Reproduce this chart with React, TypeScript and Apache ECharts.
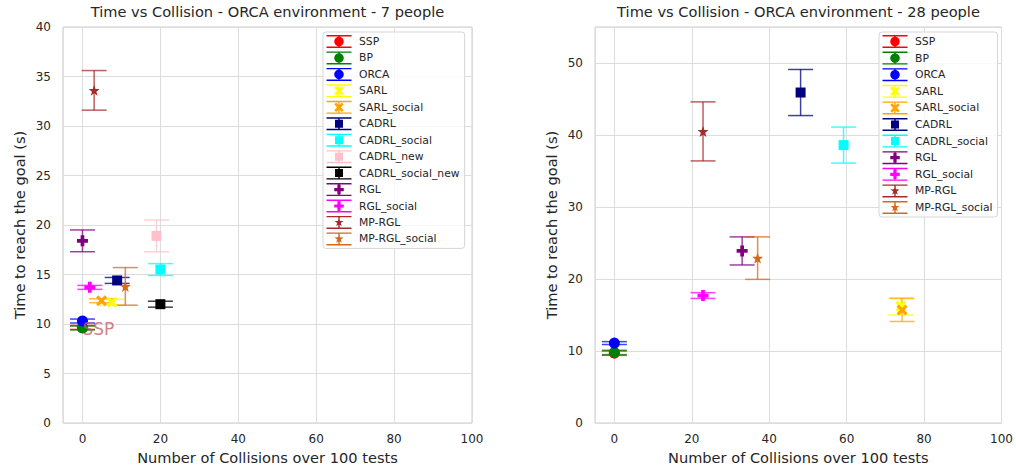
import React, { useEffect, useRef } from "react";
import * as echarts from "echarts";

// ---- data (7 people) ----
const methods7 = ["SSP", "BP", "ORCA", "SARL", "SARL_social", "CADRL", "CADRL_social", "CADRL_new", "CADRL_social_new", "RGL", "RGL_social", "MP-RGL", "MP-RGL_social"];
const collisions7 = [0, 0, 0, 7.6, 4.9, 8.9, 20, 19, 20, 0, 1.9, 3, 11];
const time7 = [9.65, 9.6, 10.3, 12.2, 12.35, 14.4, 15.5, 18.9, 12.0, 18.4, 13.7, 33.6, 13.8];
const err7 = [0.2, 0.2, 0.2, 0.3, 0.2, 0.3, 0.6, 1.6, 0.3, 1.1, 0.2, 2.0, 1.9];

// ---- data (28 people) ----
const methods28 = ["SSP", "BP", "ORCA", "SARL", "SARL_social", "CADRL", "CADRL_social", "RGL", "RGL_social", "MP-RGL", "MP-RGL_social"];
const collisions28 = [0, 0, 0, 74, 74.3, 48.1, 59.2, 33, 22.9, 22.9, 37];
const time28 = [9.7, 9.8, 11.1, 16.2, 15.7, 45.9, 38.6, 23.9, 17.7, 40.5, 22.9];
const err28 = [0.3, 0.3, 0.2, 1.2, 1.6, 3.2, 2.5, 1.95, 0.4, 4.1, 2.95];

const titles = ["Time vs Collision - ORCA environment - 7 people", "Time vs Collision - ORCA environment - 28 people"];
const xName = "Number of Collisions over 100 tests";
const yName = "Time to reach the goal (s)";
const annotationText = "SSP";

const COLORS: Record<string, string> = {
  SSP: "#ff0000",
  BP: "#008000",
  ORCA: "#0000ff",
  SARL: "#ffff00",
  SARL_social: "#ffa500",
  CADRL: "#000080",
  CADRL_social: "#00ffff",
  CADRL_new: "#ffc0cb",
  CADRL_social_new: "#000000",
  RGL: "#800080",
  RGL_social: "#ff00ff",
  "MP-RGL": "#a52a2a",
  "MP-RGL_social": "#d2691e",
};

const MARKER: Record<string, string> = {
  SSP: "circle", BP: "circle", ORCA: "circle",
  SARL: "x", SARL_social: "x",
  CADRL: "square", CADRL_social: "square", CADRL_new: "square", CADRL_social_new: "square",
  RGL: "plus", RGL_social: "plus",
  "MP-RGL": "star", "MP-RGL_social": "star",
};

const circlePts: number[][] = [];
for (let i = 0; i < 28; i++) {
  const a = (i / 28) * Math.PI * 2;
  circlePts.push([5 + 5 * Math.cos(a), 5 + 5 * Math.sin(a)]);
}
const SHAPES: Record<string, number[][]> = {
  circle: circlePts,
  x: [[2, 0], [5, 3], [8, 0], [10, 2], [7, 5], [10, 8], [8, 10], [5, 7], [2, 10], [0, 8], [3, 5], [0, 2]],
  square: [[0, 0], [10, 0], [10, 10], [0, 10]],
  plus: [[3.3, 0], [6.7, 0], [6.7, 3.3], [10, 3.3], [10, 6.7], [6.7, 6.7], [6.7, 10], [3.3, 10], [3.3, 6.7], [0, 6.7], [0, 3.3], [3.3, 3.3]],
  star: [[5, 0], [6.18, 3.38], [9.76, 3.45], [6.9, 5.62], [7.94, 9.05], [5, 7], [2.06, 9.05], [3.1, 5.62], [0.24, 3.45], [3.82, 3.38]],
};
const SIZES: Record<string, number> = { circle: 11, x: 11, square: 10, plus: 11, star: 11 };

function polyPath(pts: number[][], s: number, ox: number, oy: number) {
  return pts.map((p, i) => (i ? "L" : "M") + (ox + p[0] * s).toFixed(2) + "," + (oy + p[1] * s).toFixed(2)).join(" ") + " Z";
}
const CAP = "M0,0 H25 V1.4 H0 Z M0,11.6 H25 V13 H0 Z M11.8,0 H13.2 V13 H11.8 Z";
function symbolOf(m: string) {
  return "path://" + polyPath(SHAPES[MARKER[m]], 1, 0, 0);
}
function iconOf(m: string) {
  const k = MARKER[m];
  const s = k === "square" ? 0.8 : 0.95;
  const off = (10 * s) / 2;
  return "path://" + CAP + " " + polyPath(SHAPES[k], s, 12.5 - off, 6.5 - off);
}

function errorbarRender(color: string) {
  return (params: any, api: any) => {
    const x = api.value(0);
    const y = api.value(1);
    const e = api.value(2);
    const top = api.coord([x, y + e]);
    const bot = api.coord([x, y - e]);
    const hw = 12.5;
    const style = { stroke: color, lineWidth: 1.5, opacity: 0.75 };
    return {
      type: "group",
      children: [
        { type: "line", shape: { x1: top[0], y1: top[1], x2: bot[0], y2: bot[1] }, style },
        { type: "line", shape: { x1: top[0] - hw, y1: top[1], x2: top[0] + hw, y2: top[1] }, style },
        { type: "line", shape: { x1: bot[0] - hw, y1: bot[1], x2: bot[0] + hw, y2: bot[1] }, style },
      ],
    };
  };
}

function panelSeries(methods: string[], xs: number[], ys: number[], es: number[], idx: number) {
  const out: any[] = [];
  methods.forEach((m, i) => {
    const c = COLORS[m];
    out.push({
      type: "custom",
      name: m,
      xAxisIndex: idx,
      yAxisIndex: idx,
      data: [[xs[i], ys[i], es[i]]],
      encode: { x: 0, y: 1 },
      itemStyle: { color: c },
      renderItem: errorbarRender(c),
      silent: true,
    });
    out.push({
      type: "scatter",
      name: m,
      xAxisIndex: idx,
      yAxisIndex: idx,
      data: [[xs[i], ys[i]]],
      symbol: symbolOf(m),
      symbolSize: SIZES[MARKER[m]],
      itemStyle: { color: c, opacity: 1 },
      silent: true,
    });
  });
  return out;
}

const FONT = "DejaVu Sans";
const TXT = "#262626";
const BIG = 14.6;

function makeAxes(idx: number, yMax: number, yInterval: number) {
  const x = {
    type: "value",
    gridIndex: idx,
    min: -5,
    max: 100,
    name: xName,
    nameLocation: "middle",
    nameGap: 27,
    nameTextStyle: { fontSize: BIG, color: TXT, fontFamily: FONT },
    axisLine: { show: false },
    axisTick: { show: false },
    axisLabel: { fontSize: 12, color: TXT, fontFamily: FONT, margin: 10, showMinLabel: false },
    splitLine: { show: true, lineStyle: { color: "#dddddd", width: 1 } },
  };
  const y = {
    type: "value",
    gridIndex: idx,
    min: 0,
    max: yMax,
    interval: yInterval,
    name: yName,
    nameLocation: "middle",
    nameGap: 36,
    nameTextStyle: { fontSize: BIG, color: TXT, fontFamily: FONT },
    axisLine: { show: false },
    axisTick: { show: false },
    axisLabel: {
      fontSize: 12, color: TXT, fontFamily: FONT, margin: 12,
      formatter: (v: number) => (v % yInterval === 0 ? String(v) : ""),
    },
    splitLine: { show: true, lineStyle: { color: "#dddddd", width: 1 } },
  };
  return { x, y };
}

function makeLegend(methods: string[], left: number, gap: number) {
  return {
    orient: "vertical",
    left,
    top: 32,
    itemWidth: 25,
    itemHeight: 13,
    itemGap: gap,
    padding: [3, 5, 3, 3.5],
    backgroundColor: "rgba(255,255,255,0.8)",
    borderColor: "#d6d6d6",
    borderWidth: 1,
    borderRadius: 3,
    selectedMode: false,
    textStyle: { fontSize: 10.8, color: TXT, fontFamily: FONT, padding: [0, 0, 0, 2.5] },
    data: methods.map((m) => ({ name: m, icon: iconOf(m), itemStyle: { color: COLORS[m] } })),
  };
}

export default function App() {
  const ref = useRef<HTMLDivElement>(null);
  useEffect(() => {
    if (!ref.current) return;
    const chart = echarts.init(ref.current, null, { renderer: "svg" });
    const a0 = makeAxes(0, 40, 5);
    const a1 = makeAxes(1, 55, 10);
    const series = [
      ...panelSeries(methods7, collisions7, time7, err7, 0),
      ...panelSeries(methods28, collisions28, time28, err28, 1),
      {
        type: "scatter",
        name: "annotation",
        xAxisIndex: 0,
        yAxisIndex: 0,
        data: [[collisions7[0], time7[0]]],
        symbol: "circle",
        symbolSize: 1,
        itemStyle: { color: "rgba(0,0,0,0)" },
        silent: true,
        z: 5,
        label: {
          show: true,
          formatter: annotationText,
          position: [0.5, 2],
          align: "left",
          verticalAlign: "middle",
          fontSize: 17,
          color: "#c46060",
          fontFamily: FONT,
        },
      },
    ];
    chart.setOption({
      animation: false,
      backgroundColor: "#ffffff",
      title: [
        { text: titles[0], left: 267.5, top: 4, textAlign: "center", padding: 0, textStyle: { fontSize: BIG, fontWeight: "normal", color: TXT, fontFamily: FONT } },
        { text: titles[1], left: 798.5, top: 4, textAlign: "center", padding: 0, textStyle: { fontSize: BIG, fontWeight: "normal", color: TXT, fontFamily: FONT } },
      ],
      grid: [
        { left: 63, top: 27, width: 409, height: 396, show: true, borderColor: "#cccccc", borderWidth: 1, containLabel: false },
        { left: 595, top: 27, width: 407, height: 396, show: true, borderColor: "#cccccc", borderWidth: 1, containLabel: false },
      ],
      xAxis: [a0.x, a1.x],
      yAxis: [a0.y, a1.y],
      legend: [makeLegend(methods7, 323, 3.45), makeLegend(methods28, 879, 3.6)],
      series,
    });
    return () => chart.dispose();
  }, []);
  return <div ref={ref} style={{ position: "fixed", left: 0, top: 0, width: 1016, height: 473 }} />;
}
